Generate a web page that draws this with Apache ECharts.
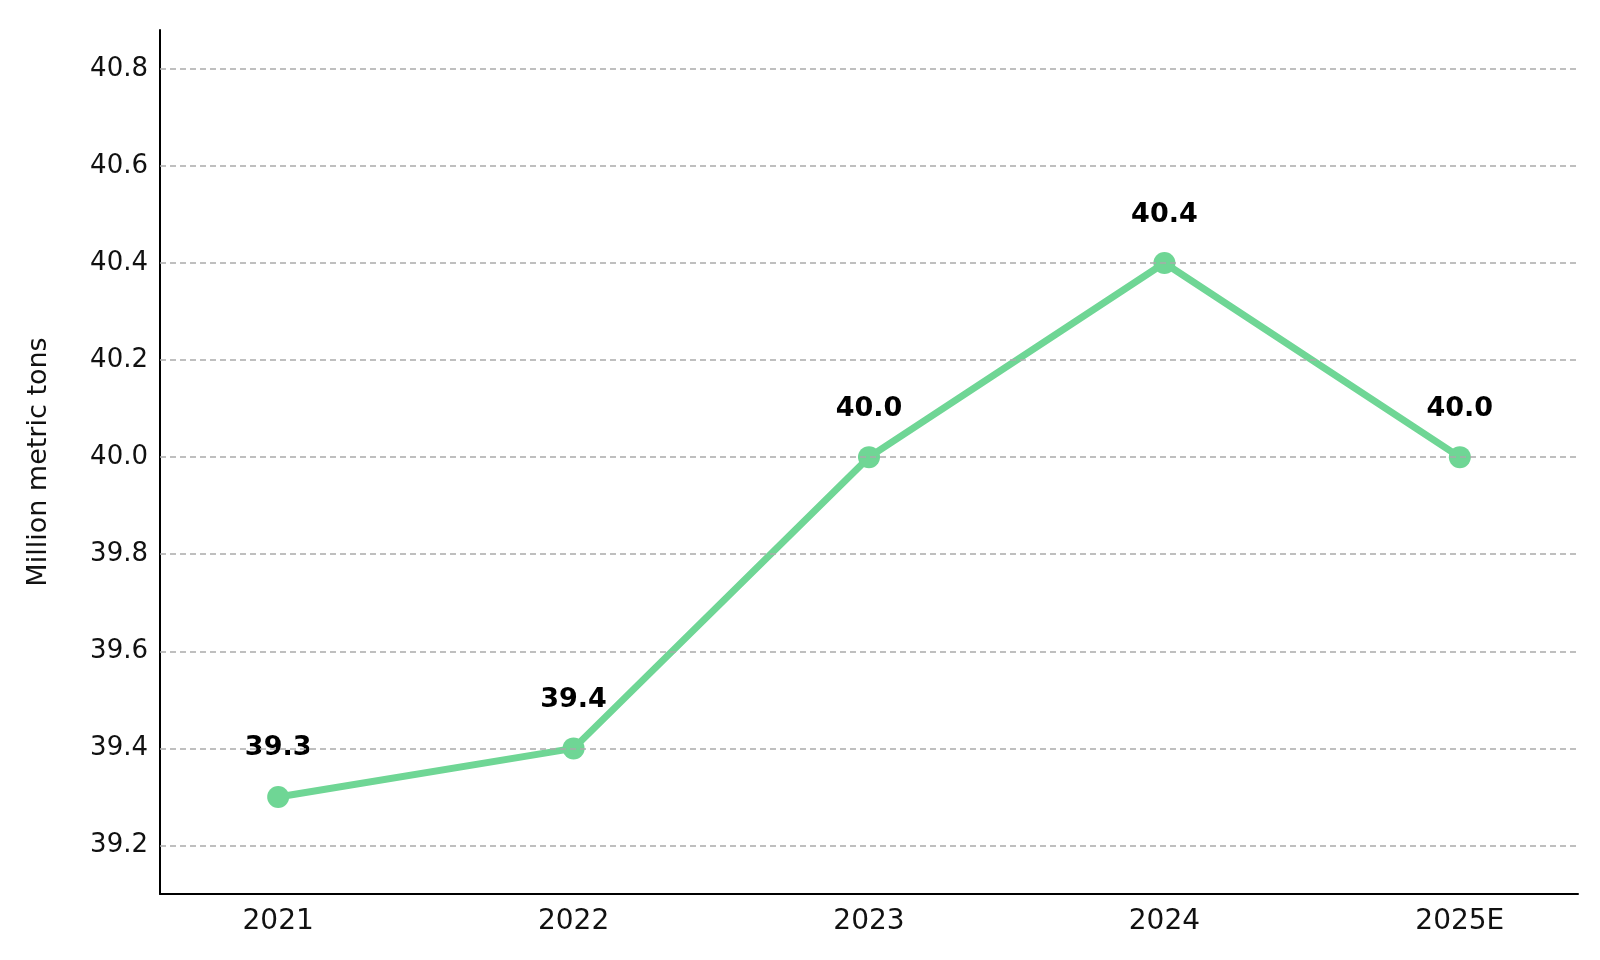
<!DOCTYPE html>
<html>
<head>
<meta charset="utf-8">
<script src="https://cdn.jsdelivr.net/npm/echarts@6/dist/echarts.min.js"></script>
<style>html,body{margin:0;padding:0;background:#fff}#chart{width:1600px;height:960px}</style>
</head>
<body>
<div id="chart"></div>
<script>
const years = ['2021', '2022', '2023', '2024', '2025E'];
const production = [39.3, 39.4, 40.0, 40.4, 40.0];
const yTicks = [39.2, 39.4, 39.6, 39.8, 40.0, 40.2, 40.4, 40.6, 40.8];

const chart = echarts.init(document.getElementById('chart'));
const font = 'DejaVu Sans';
chart.setOption({
    animation: false,
    textStyle: { fontFamily: font },
    grid: { left: 160, right: 22, top: 30, bottom: 66 },
    xAxis: {
        type: 'value',
        min: -0.4,
        max: 4.4,
        axisLine: { show: true, onZero: false, lineStyle: { color: '#000', width: 2 } },
        axisTick: { show: false },
        splitLine: { show: false },
        axisLabel: {
            customValues: [0, 1, 2, 3, 4],
            formatter: v => years[Math.round(v)] || '',
            fontSize: 28, color: '#111', margin: 14
        }
    },
    yAxis: {
        type: 'value',
        min: 39.1,
        max: 40.88,
        name: 'Million metric tons',
        nameLocation: 'middle',
        nameGap: 108,
        nameTextStyle: { fontSize: 27, color: '#111' },
        axisLine: { show: true, onZero: false, lineStyle: { color: '#000', width: 2 } },
        axisTick: { show: false },
        splitLine: { show: false },
        axisLabel: {
            customValues: yTicks,
            formatter: v => v.toFixed(1),
            fontSize: 26, color: '#111', margin: 12
        }
    },
    series: [{
        type: 'line',
        data: production.map((v, i) => [i, v]),
        symbol: 'circle',
        symbolSize: 22,
        lineStyle: { color: '#6fd695', width: 7 },
        itemStyle: { color: '#6fd695' },
        label: {
            show: true, position: 'top', distance: 24,
            formatter: p => p.value[1].toFixed(1),
            fontSize: 27, fontWeight: 'bold', color: '#000'
        },
        markLine: {
            silent: true, symbol: 'none', label: { show: false },
            lineStyle: { color: '#aaa', type: [6, 4], width: 1.5 },
            data: yTicks.map(v => ({ yAxis: v }))
        },
        z: 3
    }]
});
</script>
</body>
</html>
